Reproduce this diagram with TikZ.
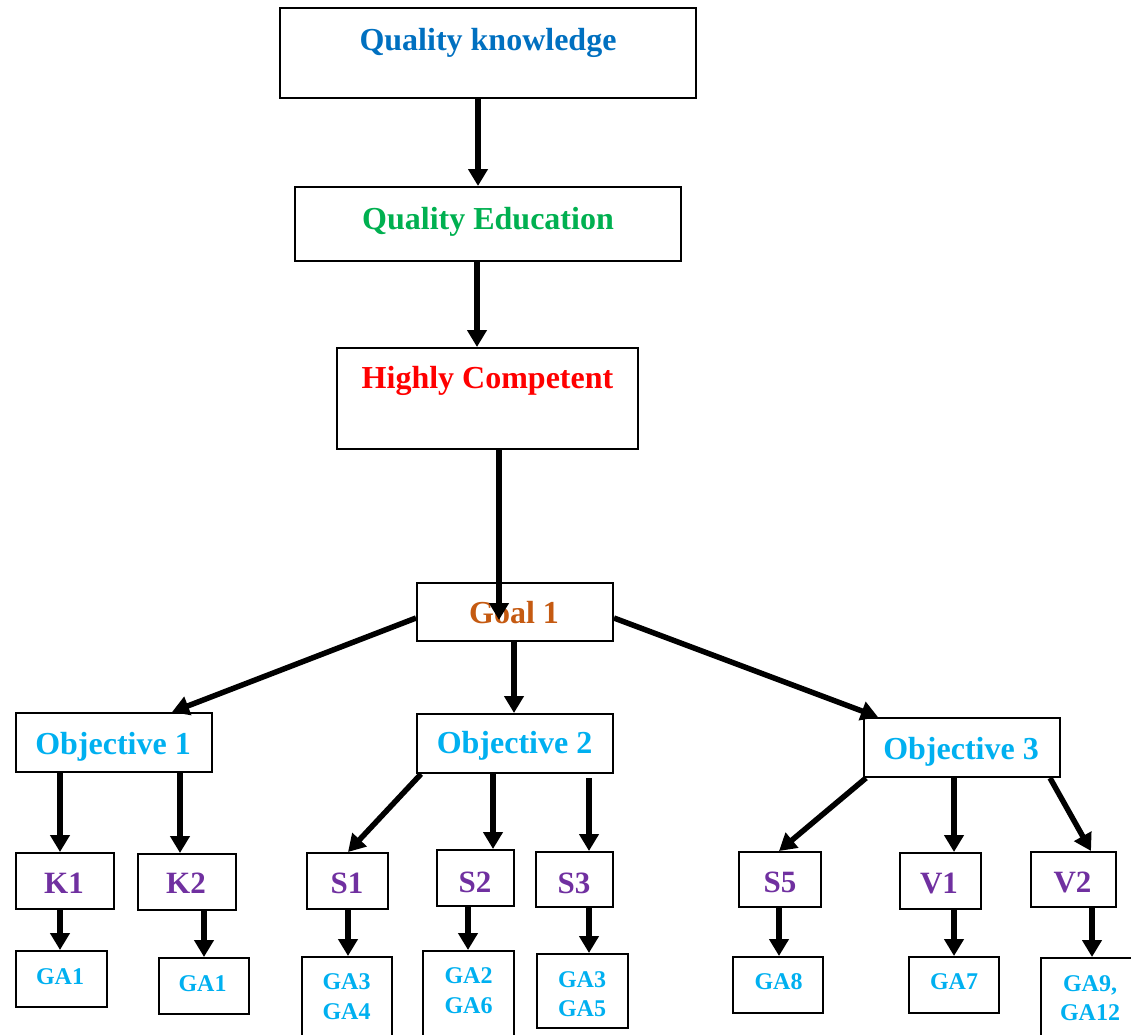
\documentclass[tikz,border=0pt]{standalone}
\usepackage{fontspec}
\setmainfont{Liberation Serif}
\usetikzlibrary{arrows.meta,fit}
\definecolor{cqk}{HTML}{0070C0}
\definecolor{cqe}{HTML}{00B050}
\definecolor{chc}{HTML}{FF0000}
\definecolor{cgoal}{HTML}{C55A11}
\definecolor{cobj}{HTML}{00B0F0}
\definecolor{cpur}{HTML}{7030A0}
\begin{document}
\begin{tikzpicture}[x=1pt,y=-1pt,
  boxst/.style={draw=black, line width=2pt, inner sep=0pt, rectangle},
  big/.style={font=\fontsize{32}{38}\selectfont\bfseries, inner sep=0pt, anchor=base},
  mid/.style={font=\fontsize{31}{37}\selectfont\bfseries, inner sep=0pt, anchor=base, text=cpur},
  small/.style={font=\fontsize{24}{29.5}\selectfont\bfseries, inner sep=0pt, text=cobj, align=center},
  arr/.style={line width=6pt, -{Triangle[length=17pt,width=19pt]}},
  darr/.style={line width=5.5pt, -{Triangle[length=17pt,width=19pt]}}
]
\clip (0,0) rectangle (1131,1034);
\fill[white] (0,0) rectangle (1131,1034);

% boxes
\node[boxst, fit={(280,8) (696,98)}] (qk) {};
\node[boxst, fit={(295,187) (681,261)}] (qe) {};
\node[boxst, fit={(337,348) (638,449)}] (hc) {};
\node[boxst, fit={(417,583) (613,641)}] (goal) {};
\node[boxst, fit={(16,713) (212,772)}] (obj1) {};
\node[boxst, fit={(417,714) (613,773)}] (obj2) {};
\node[boxst, fit={(864,718) (1060,777)}] (obj3) {};
\node[boxst, fit={(16,853) (114,909)}] (k1) {};
\node[boxst, fit={(138,854) (236,910)}] (k2) {};
\node[boxst, fit={(307,853) (388,909)}] (s1) {};
\node[boxst, fit={(437,850) (514,906)}] (s2) {};
\node[boxst, fit={(536,852) (613,907)}] (s3) {};
\node[boxst, fit={(739,852) (821,907)}] (s5) {};
\node[boxst, fit={(900,853) (981,909)}] (v1) {};
\node[boxst, fit={(1031,852) (1116,907)}] (v2) {};
\node[boxst, fit={(16,951) (107,1007)}] (ga1a) {};
\node[boxst, fit={(159,958) (249,1014)}] (ga1b) {};
\node[boxst, fit={(302,957) (392,1060)}] (ga34) {};
\node[boxst, fit={(423,951) (514,1060)}] (ga26) {};
\node[boxst, fit={(537,954) (628,1028)}] (ga35) {};
\node[boxst, fit={(733,957) (823,1013)}] (ga8) {};
\node[boxst, fit={(909,957) (999,1013)}] (ga7) {};
\node[boxst, fit={(1041,958) (1160,1060)}] (ga912) {};

% texts
\node[big, text=cqk] (tqk) at (488,50) {Quality knowledge};
\node[big, text=cqe] (tqe) at (488,229) {Quality Education};
\node[big, text=chc] (thc) at (487.5,388) {Highly Competent};
\node[big, text=cgoal] (tgoal) at (514,623) {Goal 1};
\node[big, text=cobj] (to1) at (113,754) {Objective 1};
\node[big, text=cobj] (to2) at (514.5,753) {Objective 2};
\node[big, text=cobj] (to3) at (961,759) {Objective 3};
\node[mid] (tk1) at (64,893) {K1};
\node[mid] (tk2) at (186,893) {K2};
\node[mid] (ts1) at (347,893) {S1};
\node[mid] (ts2) at (475,892) {S2};
\node[mid] (ts3) at (574,893) {S3};
\node[mid] (ts5) at (780,892) {S5};
\node[mid] (tv1) at (939,893) {V1};
\node[mid] (tv2) at (1072.5,892) {V2};
\node[small, anchor=base] (tga1a) at (60,984) {GA1};
\node[small, anchor=base] (tga1b) at (202.5,991) {GA1};
\node[small] (tga34) at (346.5,996.5) {GA3\\GA4};
\node[small] (tga26) at (468.5,990.5) {GA2\\GA6};
\node[small] (tga35) at (582,994) {GA3\\GA5};
\node[small, anchor=base] (tga8) at (778.5,989) {GA8};
\node[small, anchor=base] (tga7) at (954,989) {GA7};
\node[small] (tga912) at (1090,998) {GA9,\\GA12};

% connectors
\coordinate (gtip) at (499,620);
\draw[arr] (qk.south -| 478,0) -- (qe.north -| 478,0);
\draw[arr] (qe.south -| 477,0) -- (hc.north -| 477,0);
\draw[arr] (hc.south -| 499,0) -- (gtip);
\draw[darr] (goal.west |- 0,618) -- (obj1.north -| 172,0);
\draw[arr] (goal.south -| 514,0) -- (obj2.north -| 514,0);
\draw[darr] (goal.east |- 0,618) -- (obj3.north -| 878,0);
\draw[arr] (obj1.south -| 60,0) -- (k1.north -| 60,0);
\draw[arr] (obj1.south -| 180,0) -- (k2.north -| 180,0);
\draw[darr] (obj2.south -| 421,0) -- (s1.north -| 348,0);
\draw[arr] (obj2.south -| 493,0) -- (s2.north -| 493,0);
\draw[arr, shorten <=4pt] (obj2.south -| 589,0) -- (s3.north -| 589,0);
\draw[darr] (obj3.south -| 866,0) -- (s5.north -| 779,0);
\draw[arr] (obj3.south -| 954,0) -- (v1.north -| 954,0);
\draw[darr] (obj3.south -| 1050,0) -- (v2.north -| 1091,0);
\draw[arr] (k1.south -| 60,0) -- (ga1a.north -| 60,0);
\draw[arr] (k2.south -| 204,0) -- (ga1b.north -| 204,0);
\draw[arr] (s1.south -| 348,0) -- (ga34.north -| 348,0);
\draw[arr] (s2.south -| 468,0) -- (ga26.north -| 468,0);
\draw[arr] (s3.south -| 589,0) -- (ga35.north -| 589,0);
\draw[arr] (s5.south -| 779,0) -- (ga8.north -| 779,0);
\draw[arr] (v1.south -| 954,0) -- (ga7.north -| 954,0);
\draw[arr] (v2.south -| 1092,0) -- (ga912.north -| 1092,0);
\end{tikzpicture}
\end{document}
